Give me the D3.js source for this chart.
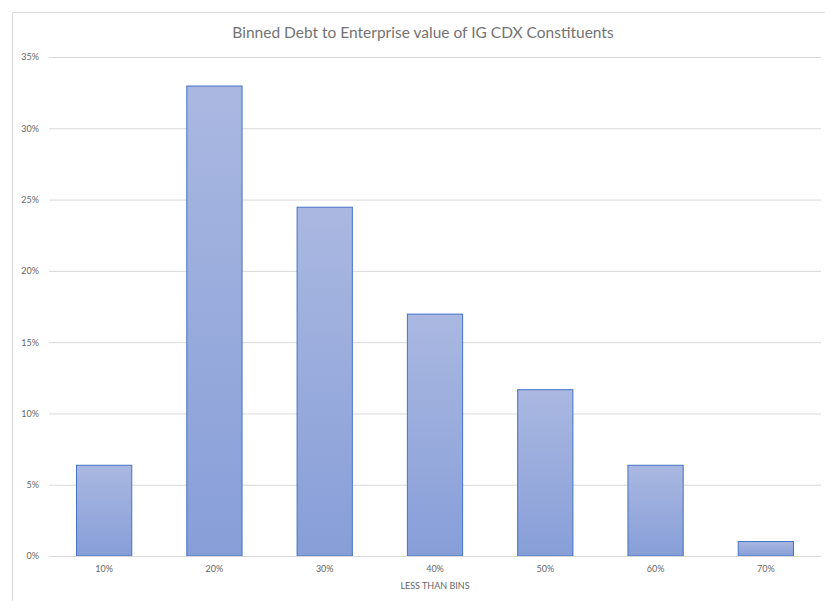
<!DOCTYPE html>
<html>
<head>
<meta charset="utf-8">
<script src="https://cdn.jsdelivr.net/npm/d3@7"></script>
<style>
  body { margin: 0; background: #fff; }
  text { font-family: Lato, "Open Sans", sans-serif; fill: #595959; }
</style>
</head>
<body>
<div class="interactive-wrapper"></div>
<script>
const bins = ['10%', '20%', '30%', '40%', '50%', '60%', '70%'];
const shares = [6.4, 33.0, 24.5, 17.0, 11.7, 6.4, 1.05];
const yTickValues = [0, 5, 10, 15, 20, 25, 30, 35];

const w = 825, h = 601;
const margin = {top: 57, right: 4, bottom: 45, left: 49};
const width = w - margin.left - margin.right;
const height = h - margin.top - margin.bottom;

const svg = d3.select('.interactive-wrapper').append('svg')
  .attr('width', w)
  .attr('height', h);

// chart frame
svg.append('path')
  .attr('d', 'M12.5,' + h + 'V12.5H' + w)
  .attr('fill', 'none')
  .attr('stroke', '#d9d9d9');

const defs = svg.append('defs');
const grad = defs.append('linearGradient')
  .attr('id', 'barGrad')
  .attr('x1', 0).attr('y1', 0).attr('x2', 0).attr('y2', 1);
grad.append('stop').attr('offset', '0%').attr('stop-color', '#aab8e1');
grad.append('stop').attr('offset', '100%').attr('stop-color', '#879ed8');

svg.append('text')
  .attr('x', 423)
  .attr('y', 38)
  .attr('text-anchor', 'middle')
  .style('font-size', '15.5px')
  .style('fill', '#737373')
  .text('Binned Debt to Enterprise value of IG CDX Constituents');

const g = svg.append('g')
  .attr('transform', 'translate(' + margin.left + ',' + margin.top + ')');

const xScale = d3.scaleBand()
  .domain(bins)
  .range([0, width])
  .paddingInner(0.49)
  .paddingOuter(0.245);

const yScale = d3.scaleLinear()
  .domain([0, 35])
  .range([height, 0]);

const yaxis = g.append('g')
  .attr('class', 'y axis')
  .call(
    d3.axisLeft(yScale)
    .tickValues(yTickValues)
    .tickSizeInner(-width)
    .tickSizeOuter(0)
    .tickFormat(d => d + '%')
  );
yaxis.select('.domain').remove();
yaxis.selectAll('line').attr('stroke', '#d9d9d9');
yaxis.selectAll('text')
  .attr('x', -10)
  .style('font-size', '9px')
  .style('fill', '#666');

g.selectAll('.bar')
  .data(shares)
  .enter().append('rect')
  .attr('class', 'bar')
  .attr('x', (d, i) => xScale(bins[i]) + 0.5)
  .attr('y', d => yScale(d) + 0.5)
  .attr('width', xScale.bandwidth() - 1)
  .attr('height', d => height - yScale(d) - 0.5)
  .attr('fill', 'url(#barGrad)')
  .attr('stroke', '#4472c4')
  .attr('stroke-width', 1);

const xaxis = g.append('g')
  .attr('class', 'x axis')
  .attr('transform', 'translate(0,' + height + ')')
  .call(d3.axisBottom(xScale).tickSize(0).tickPadding(10));
xaxis.select('.domain').attr('stroke', '#d9d9d9');
xaxis.selectAll('text')
  .style('font-size', '9px')
  .style('fill', '#666');

svg.append('text')
  .attr('x', margin.left + width / 2)
  .attr('y', 589)
  .attr('text-anchor', 'middle')
  .style('font-size', '9px')
  .style('fill', '#666')
  .text('LESS THAN BINS');
</script>
</body>
</html>
